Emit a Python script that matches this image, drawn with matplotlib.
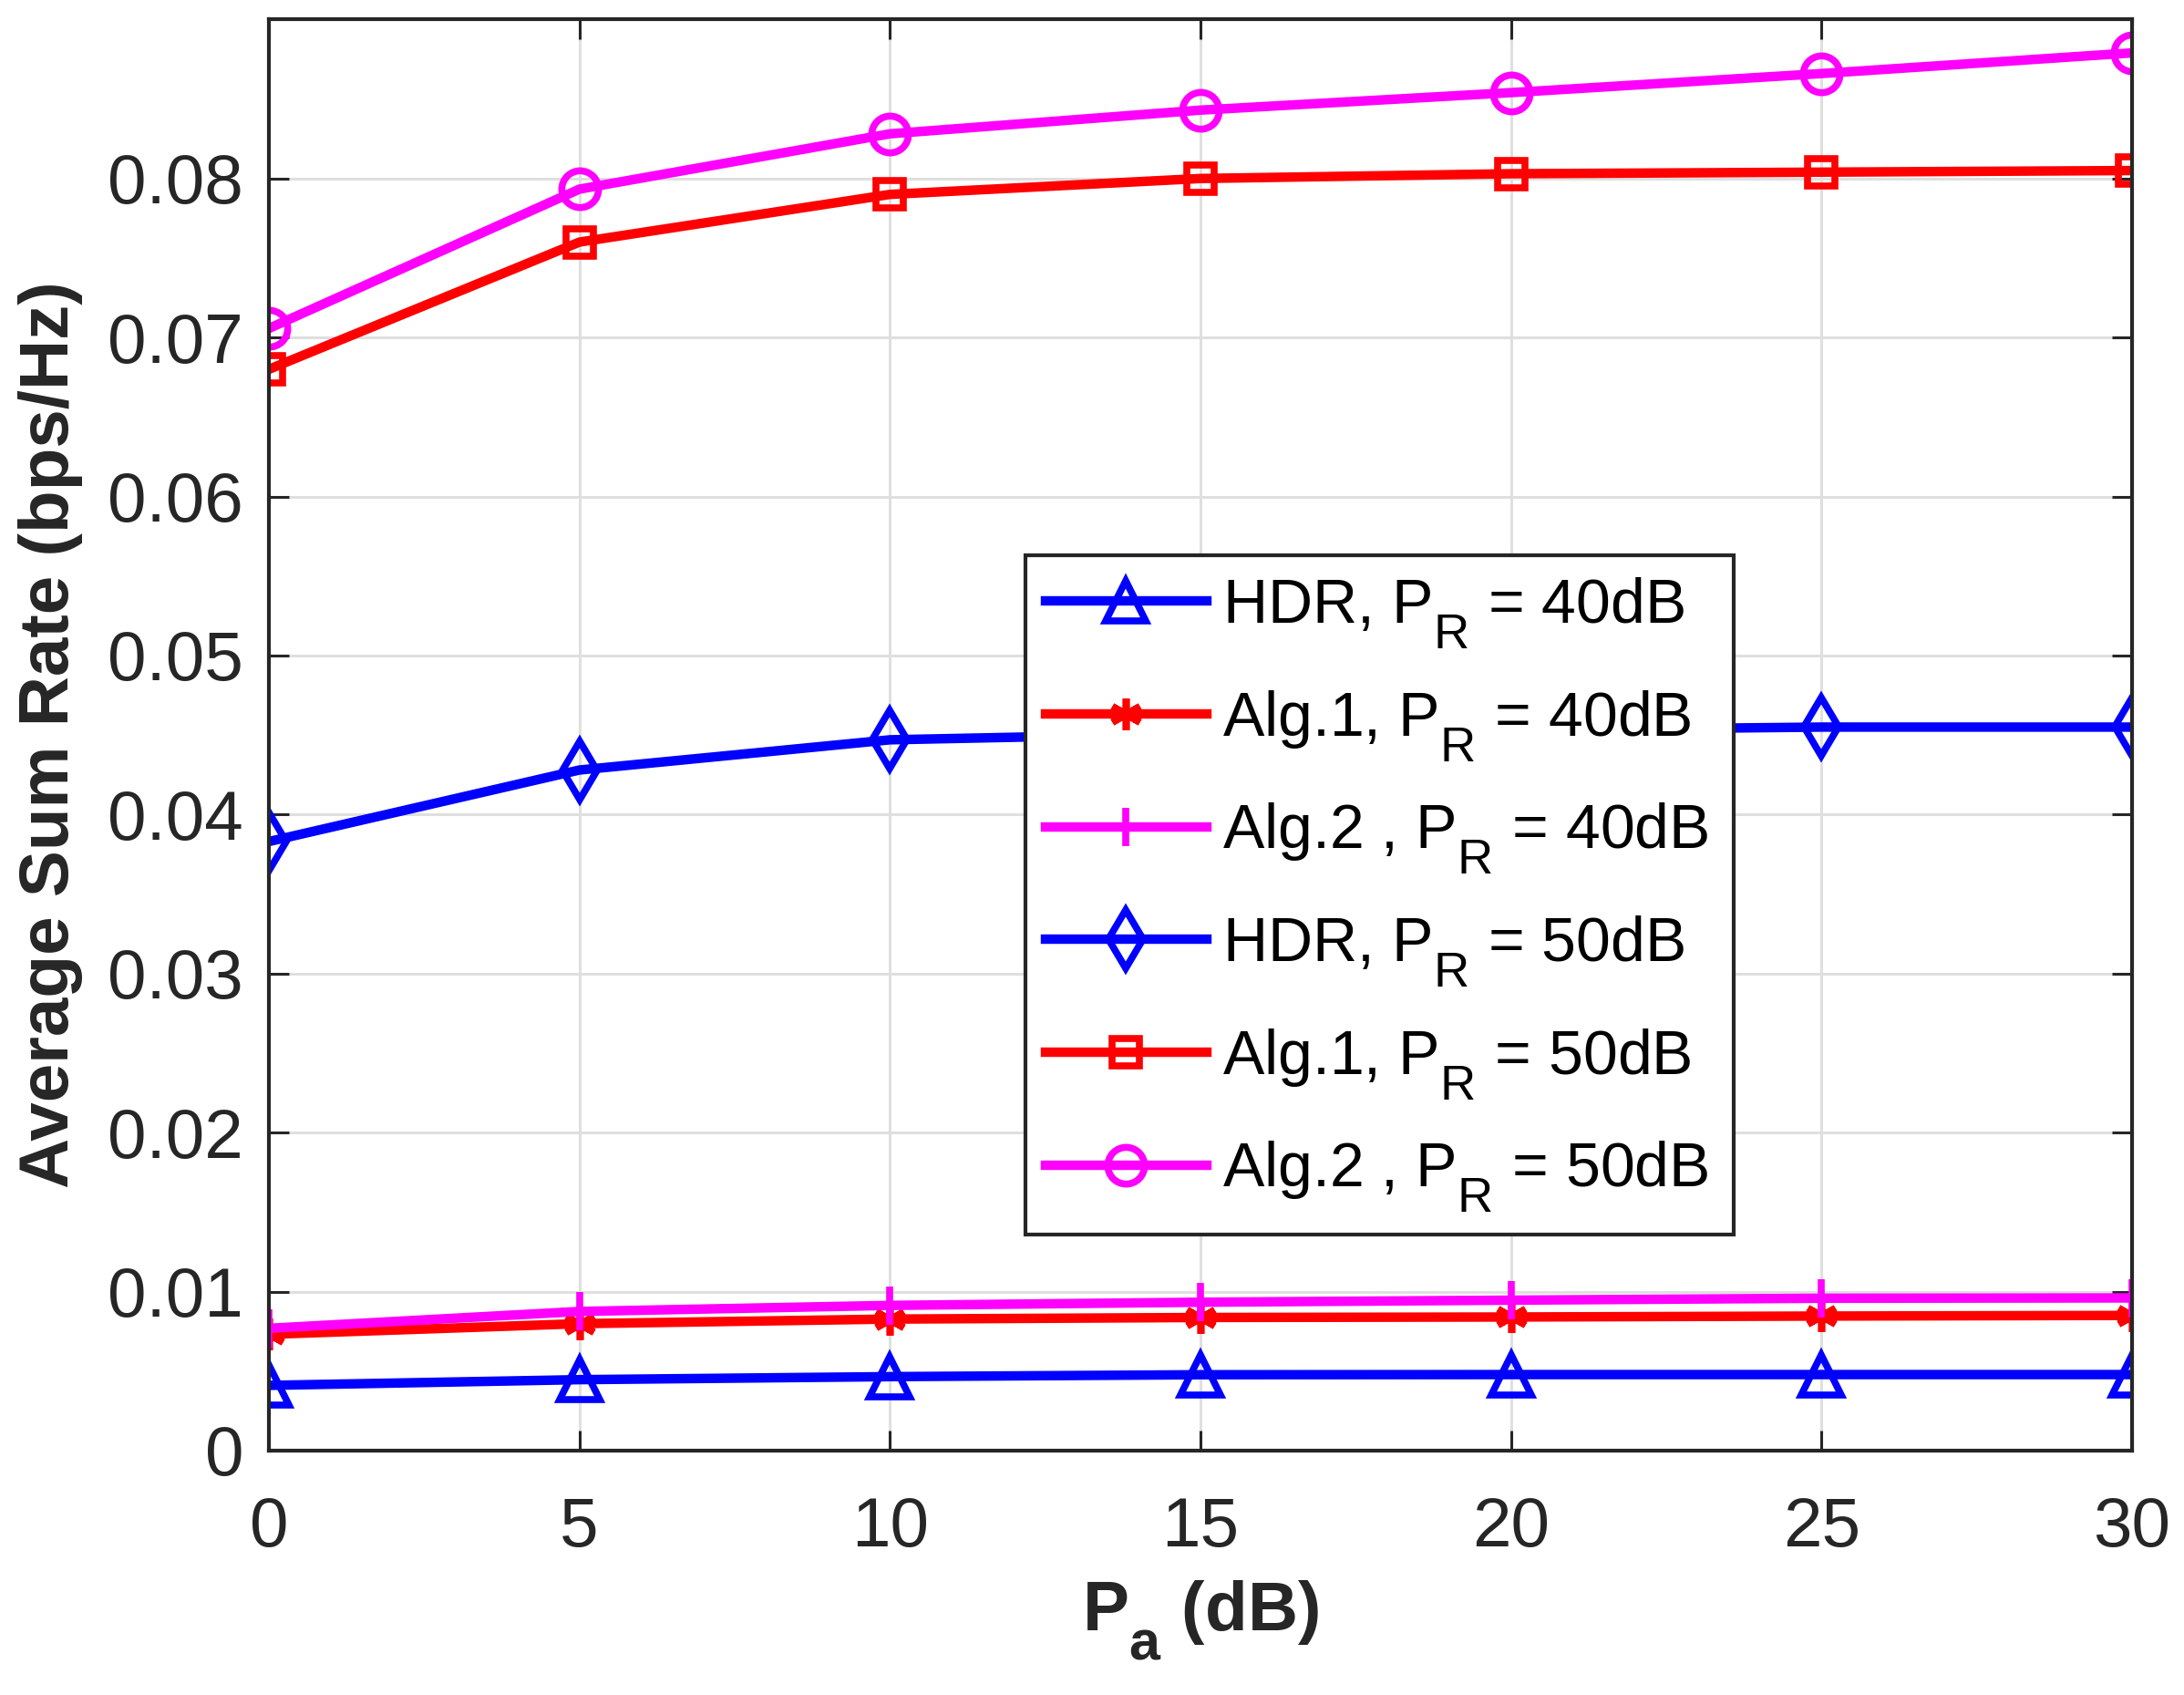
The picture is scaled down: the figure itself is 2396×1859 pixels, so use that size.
import matplotlib
matplotlib.use("Agg")
import matplotlib.pyplot as plt
import matplotlib._mathtext as mt

plt.rcParams['font.family'] = ['Liberation Sans', 'DejaVu Sans']
plt.rcParams['mathtext.fontset'] = 'custom'
plt.rcParams['mathtext.rm'] = 'Liberation Sans'
plt.rcParams['mathtext.it'] = 'Liberation Sans'
plt.rcParams['mathtext.bf'] = 'Liberation Sans:bold'
# MATLAB-like larger, lower subscripts
try:
    mt.SHRINK_FACTOR = 0.8
    mt.FontConstantsBase.sub1 = 0.8
    mt.FontConstantsBase.sub2 = 0.9
except Exception:
    pass

pa = [0, 5, 10, 15, 20, 25, 30]
hdr_40 = [0.0041, 0.00446, 0.00465, 0.00477, 0.00478, 0.00478, 0.00478]
alg1_40 = [0.00731, 0.00798, 0.00827, 0.00837, 0.0084, 0.00846, 0.0085]
alg2_40 = [0.00769, 0.00875, 0.00913, 0.00933, 0.00946, 0.00958, 0.00960]
hdr_50 = [0.0383, 0.0428, 0.0447, 0.0451, 0.0453, 0.0455, 0.0455]
alg1_50 = [0.0680, 0.0760, 0.0790, 0.0800, 0.0803, 0.0804, 0.0805]
alg2_50 = [0.07057, 0.07933, 0.08281, 0.0843, 0.0854, 0.0866, 0.0879]

labels = [r'HDR, P$_\mathregular{R}$ = 40dB',
          r'Alg.1, P$_\mathregular{R}$ = 40dB',
          r'Alg.2 , P$_\mathregular{R}$ = 40dB',
          r'HDR, P$_\mathregular{R}$ = 50dB',
          r'Alg.1, P$_\mathregular{R}$ = 50dB',
          r'Alg.2 , P$_\mathregular{R}$ = 50dB']
xticks = [0, 5, 10, 15, 20, 25, 30]
yticks = [0, 0.01, 0.02, 0.03, 0.04, 0.05, 0.06, 0.07, 0.08]
yticklabels = ['0', '0.01', '0.02', '0.03', '0.04', '0.05', '0.06', '0.07', '0.08']

fs = 55
lfs = 49
fig = plt.figure(figsize=(23.96, 18.59), dpi=100)
ax = fig.add_axes([0.1231, 0.1442, 0.9762 - 0.1231, 0.9885 - 0.1442])

lw = 7.5
mew = 5.5
ax.plot(pa, hdr_40, color='#0000ff', lw=lw, marker='^', ms=32, mew=mew, mfc='none', label=labels[0])
ax.plot(pa, alg1_40, color='#ff0000', lw=lw, marker=(6, 2, 0), ms=25, mew=mew, mfc='none', label=labels[1])
ax.plot(pa, alg2_40, color='#ff00ff', lw=lw, marker='+', ms=30, mew=mew, label=labels[2])
ax.plot(pa, hdr_50, color='#0000ff', lw=lw, marker='d', ms=33, mew=mew, mfc='none', label=labels[3])
ax.plot(pa, alg1_50, color='#ff0000', lw=lw, marker='s', ms=21, mew=mew, mfc='none', label=labels[4])
ax.plot(pa, alg2_50, color='#ff00ff', lw=lw, marker='o', ms=29, mew=mew, mfc='none', label=labels[5])

ax.set_xlim(0, 30)
ax.set_ylim(0, 0.09)
ax.set_xticks(xticks)
ax.set_xticklabels([str(v) for v in xticks])
ax.set_yticks(yticks)
ax.set_yticklabels(yticklabels)

ax.grid(True, color='#dfdfdf', lw=2.2)
ax.set_axisbelow(True)
for s in ax.spines.values():
    s.set_color('#262626')
    s.set_linewidth(3)
ax.tick_params(direction='in', length=16, width=2.2, colors='#262626', labelsize=fs,
               top=True, right=True)
ax.tick_params(axis='x', pad=36)
ax.tick_params(axis='y', pad=20)
for t in ax.get_xticklabels() + ax.get_yticklabels():
    t.set_color('#262626')

ax.set_ylabel('Average Sum Rate (bps/Hz)', fontsize=fs, fontweight='bold', color='#262626', labelpad=20)
ax.set_xlabel(r'$\mathbf{P_a}$ (dB)', fontsize=fs, fontweight='bold', color='#262626', labelpad=14)

leg = ax.legend(loc='lower left', bbox_to_anchor=(0.406, 0.151, 0.38, 0.468), mode='expand',
                fontsize=lfs, handlelength=2.6, frameon=True, fancybox=False,
                borderaxespad=0, labelspacing=0.6, borderpad=0.32, handletextpad=0.25)
leg.get_frame().set_edgecolor('#262626')
leg.get_frame().set_linewidth(3)
leg.get_frame().set_alpha(1)
for t in leg.get_texts():
    t.set_color('black')

fig.savefig('out.png', dpi=100)
